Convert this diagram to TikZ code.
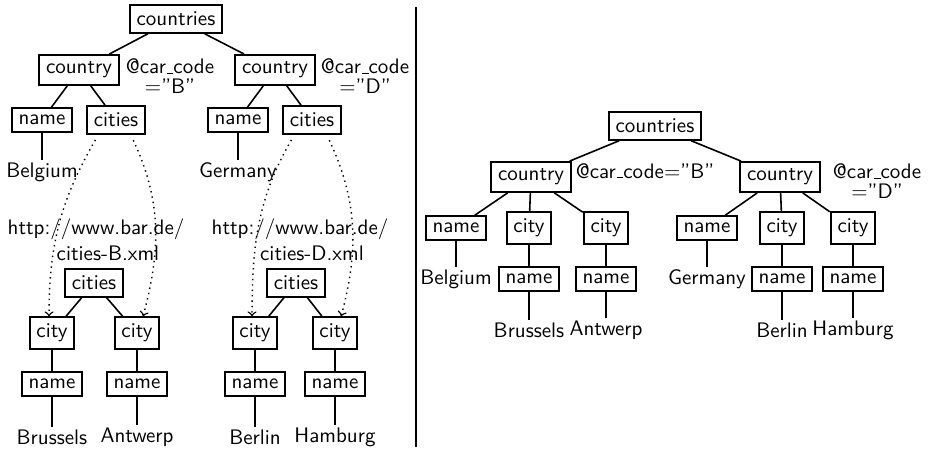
\documentclass[tikz,border=0pt]{standalone}
\newcommand\attrus{\kern.06em\vbox{\hrule width.3em}}
\begin{document}
\begin{tikzpicture}[x=0.5pt, y=-0.5pt, font=\sffamily\fontsize{10.5}{12.6}\selectfont,
  box/.style={draw, line width=1.1pt},
  leaf/.style={inner sep=1pt},
  attr/.style={align=center, inner sep=0pt, font=\sffamily\fontsize{10.5}{10}\selectfont},
  url/.style={align=center, inner sep=0pt},
  tedge/.style={line width=.8pt},
  link/.style={dotted, line width=.7pt, ->, shorten <=3pt}]
  \useasboundingbox (0,0) rectangle (931,454);
  % left: cities kept in separate documents
  \node[box] (lroot) at (176,19) {countries};
  \node[box] (lcB) at (79,70) {country};
  \node[attr] (lattB) at (170,76) {@car\attrus code\\=''B''};
  \node[box] (lcD) at (275,70) {country};
  \node[attr] (lattD) at (365,76) {@car\attrus code\\=''D''};
  \node[box] (lnB) at (42,120) {name};
  \node[box] (lcsB) at (116,120) {cities};
  \node[box] (lnD) at (238,120) {name};
  \node[box] (lcsD) at (312,120) {cities};
  \node[leaf] (lBel) at (42,172) {Belgium};
  \node[leaf] (lGer) at (238,172) {Germany};
  \node[url] (urlB) at (96,240) {http://www.bar.de/\\[.5pt]\hspace*{12pt}cities-B.xml};
  \node[url] (urlD) at (300,240) {http://www.bar.de/\\[.5pt]\hspace*{12pt}cities-D.xml};
  \node[box] (lsB) at (94,283) {cities};
  \node[box] (lsD) at (296,283) {cities};
  \foreach \n/\x in {lyB1/52, lyB2/137, lyD1/255, lyD2/335} \node[box] (\n) at (\x,333) {city};
  \foreach \n/\x in {lmB1/52, lmB2/137, lmD1/255, lmD2/335} \node[box] (\n) at (\x,384) {name};
  \foreach \n/\x/\t in {lBru/52/Brussels, lAnt/137/Antwerp, lBer/255/Berlin, lHam/335/Hamburg}
    \node[leaf] (\n) at (\x,437) {\t};
  \foreach \a/\b in {lroot/lcB, lroot/lcD, lcB/lnB, lcB/lcsB, lcD/lnD, lcD/lcsD, lnB/lBel, lnD/lGer,
    lsB/lyB1, lsB/lyB2, lsD/lyD1, lsD/lyD2, lyB1/lmB1, lyB2/lmB2, lyD1/lmD1, lyD2/lmD2,
    lmB1/lBru, lmB2/lAnt, lmD1/lBer, lmD2/lHam}
    \draw[tedge] (\a) -- (\b);
  \draw[link] (lcsB.-140) to[out=-120, in=90] (lyB1.100);
  \draw[link] (lcsB.-45) to[out=-65, in=75] (lyB2.70);
  \draw[link] (lcsD.-140) to[out=-120, in=90] (lyD1.100);
  \draw[link] (lcsD.-45) to[out=-65, in=75] (lyD2.70);
  % separator
  \draw[line width=1.3pt] (416,7) -- (416,447);
  % right: one document
  \node[box] (rroot) at (655,126) {countries};
  \node[box] (rcB) at (531,177) {country};
  \node[attr] (rattB) at (645,171) {@car\attrus code=''B''};
  \node[box] (rcD) at (780,177) {country};
  \node[attr] (rattD) at (877,181) {@car\attrus code\\=''D''};
  \node[box] (rnB) at (456,228) {name};
  \node[box] (rnD) at (707,228) {name};
  \foreach \n/\x in {ryB1/529, ryB2/606, ryD1/782, ryD2/853} \node[box] (\n) at (\x,228) {city};
  \foreach \n/\x in {rmB1/529, rmB2/606, rmD1/782, rmD2/853} \node[box] (\n) at (\x,279) {name};
  \node[leaf] (rBel) at (456,279) {Belgium};
  \node[leaf] (rGer) at (707,279) {Germany};
  \foreach \n/\x/\t in {rBru/529/Brussels, rAnt/606/Antwerp, rBer/782/Berlin, rHam/853/Hamburg}
    \node[leaf] (\n) at (\x,330) {\t};
  \foreach \a/\b in {rroot/rcB, rroot/rcD, rcB/rnB, rcB/ryB1, rcB/ryB2, rcD/rnD, rcD/ryD1, rcD/ryD2,
    rnB/rBel, rnD/rGer, ryB1/rmB1, ryB2/rmB2, ryD1/rmD1, ryD2/rmD2,
    rmB1/rBru, rmB2/rAnt, rmD1/rBer, rmD2/rHam}
    \draw[tedge] (\a) -- (\b);
\end{tikzpicture}
\end{document}
